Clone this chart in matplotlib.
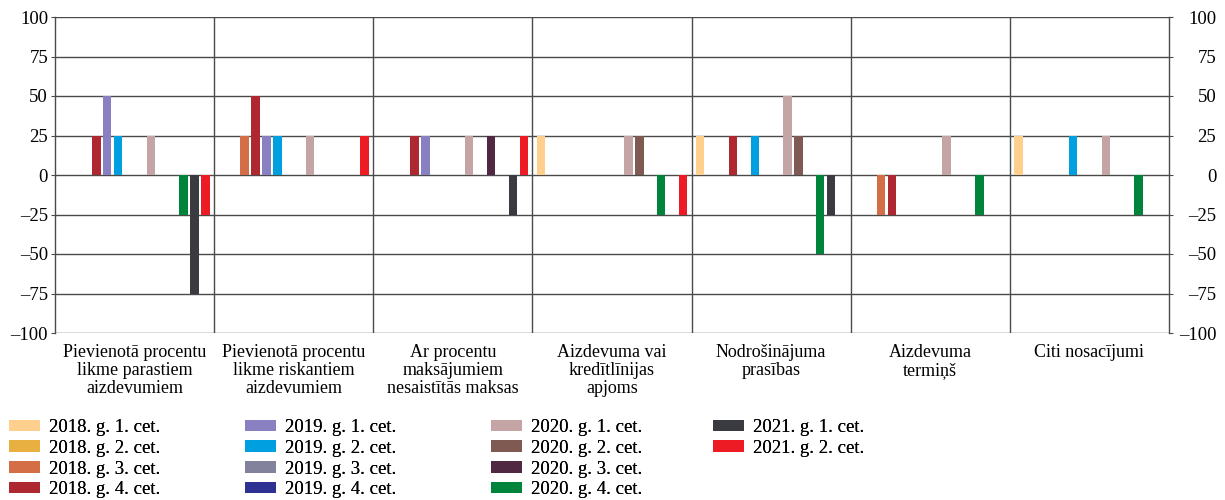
import numpy as np
import matplotlib.pyplot as plt
from matplotlib.patches import Patch

plt.rcParams["font.family"] = ["Liberation Serif", "DejaVu Serif"]

categories = [
    "Pievienotā procentu\nlikme parastiem\naizdevumiem",
    "Pievienotā procentu\nlikme riskantiem\naizdevumiem",
    "Ar procentu\nmaksājumiem\nnesaistītās maksas",
    "Aizdevuma vai\nkredītlīnijas\napjoms",
    "Nodrošinājuma\nprasības",
    "Aizdevuma\ntermiņš",
    "Citi nosacījumi",
]

series_names = [
    "2018. g. 1. cet.", "2018. g. 2. cet.", "2018. g. 3. cet.", "2018. g. 4. cet.",
    "2019. g. 1. cet.", "2019. g. 2. cet.", "2019. g. 3. cet.", "2019. g. 4. cet.",
    "2020. g. 1. cet.", "2020. g. 2. cet.", "2020. g. 3. cet.", "2020. g. 4. cet.",
    "2021. g. 1. cet.", "2021. g. 2. cet.",
]

colors = [
    "#FFCF8E", "#E8B040", "#D46E47", "#AE2832",
    "#8880C0", "#00A0E0", "#82829C", "#2E3192",
    "#C4A4A4", "#7E5A52", "#512842", "#00843C",
    "#3A3B40", "#ED1C24",
]

# values per series, one entry per category
s2018q1 = [0, 0, 0, 25, 25, 0, 25]
s2018q2 = [0, 0, 0, 0, 0, 0, 0]
s2018q3 = [0, 25, 0, 0, 0, -25, 0]
s2018q4 = [25, 50, 25, 0, 25, -25, 0]
s2019q1 = [50, 25, 25, 0, 0, 0, 0]
s2019q2 = [25, 25, 0, 0, 25, 0, 25]
s2019q3 = [0, 0, 0, 0, 0, 0, 0]
s2019q4 = [0, 0, 0, 0, 0, 0, 0]
s2020q1 = [25, 25, 25, 25, 50, 25, 25]
s2020q2 = [0, 0, 0, 25, 25, 0, 0]
s2020q3 = [0, 0, 25, 0, 0, 0, 0]
s2020q4 = [-25, 0, 0, -25, -50, -25, -25]
s2021q1 = [-75, 0, -25, 0, -25, 0, 0]
s2021q2 = [-25, 25, 25, -25, 0, 0, 0]

series = [s2018q1, s2018q2, s2018q3, s2018q4,
          s2019q1, s2019q2, s2019q3, s2019q4,
          s2020q1, s2020q2, s2020q3, s2020q4,
          s2021q1, s2021q2]

yticks = [-100, -75, -50, -25, 0, 25, 50, 75, 100]

FS = 13.5
grid_col = "#4a4a4a"

fig = plt.figure(figsize=(12.25, 5), dpi=100)
ax = fig.add_axes([55 / 1225, 1 - 333 / 500, (1169 - 55) / 1225, (333 - 17) / 500])

x = np.arange(len(categories))
step = 0.0686
width = 0.053
for i, vals in enumerate(series):
    ax.bar(x + (i - 6.5) * step, vals, width=width, color=colors[i], zorder=3)

ax.set_xlim(-0.5, len(categories) - 0.5)
ax.set_ylim(-100, 100)
ylabels = [str(v).replace("-", "\u2013") for v in yticks]
ax.set_yticks(yticks)
ax.set_yticklabels(ylabels, fontsize=FS)
ax.tick_params(axis="y", length=3, width=0.8, color=grid_col, pad=2)

# right axis: same scale, labels right-aligned near the edge
ax2 = ax.twinx()
ax2.set_ylim(-100, 100)
ax2.set_yticks(yticks)
ax2.set_yticklabels(ylabels, fontsize=FS, ha="right")
ax2.tick_params(axis="y", length=3, width=0.8, color=grid_col, pad=31)
for sp in ax2.spines.values():
    sp.set_visible(False)

for v in yticks:
    ax.axhline(v, color=grid_col, lw=1.0, zorder=1)
for b in np.arange(0.5, len(categories) - 0.5, 1):
    ax.axvline(b, color=grid_col, lw=1.0, zorder=1)

ax.set_xticks(x)
ax.set_xticklabels(categories, fontsize=13, linespacing=1.08)
ax.tick_params(axis="x", length=0, pad=8)
for sp in ax.spines.values():
    sp.set_color(grid_col)
    sp.set_linewidth(1.0)
ax.spines["top"].set_visible(False)
ax.spines["bottom"].set_visible(False)

# legend: four columns placed separately
col_x = [9, 245, 491, 713]
for c in range(4):
    idx = list(range(c * 4, min(c * 4 + 4, len(series_names))))
    handles = [Patch(facecolor=colors[i], edgecolor="none") for i in idx]
    labels = [series_names[i] for i in idx]
    leg = fig.legend(handles, labels, loc="upper left",
                     bbox_to_anchor=(col_x[c] / 1225, 1 - 419 / 500),
                     frameon=False, fontsize=FS, handlelength=1.65,
                     handleheight=0.58, handletextpad=0.5, labelspacing=0.2,
                     borderpad=0, borderaxespad=0)
    fig.add_artist(leg)

fig.savefig("out.png", dpi=100)
